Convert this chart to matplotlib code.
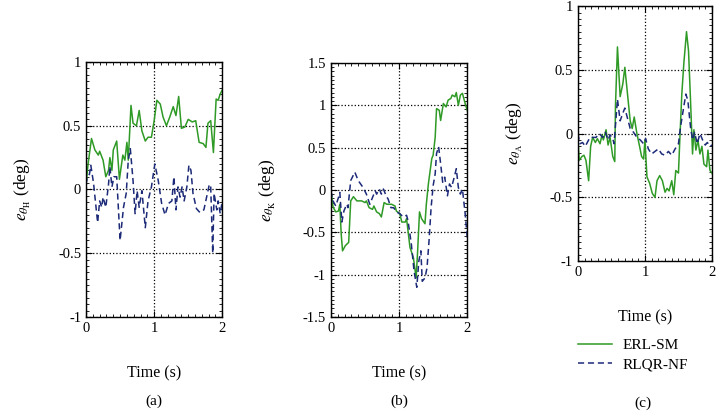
import numpy as np
import matplotlib.pyplot as plt
from matplotlib.ticker import AutoMinorLocator
from matplotlib.lines import Line2D

plt.rcParams['font.family'] = ['Liberation Serif', 'DejaVu Serif']
plt.rcParams['mathtext.fontset'] = 'stix'

# (a) hip
tH_erl = [0, 0.03, 0.08, 0.13, 0.18, 0.2, 0.25, 0.29, 0.33, 0.35, 0.38, 0.4, 0.45, 0.49, 0.54, 0.57, 0.6, 0.62,
          0.66, 0.69, 0.74, 0.78, 0.82, 0.87, 0.91, 0.96, 1.0, 1.04, 1.09, 1.13, 1.18, 1.23, 1.28, 1.32, 1.36,
          1.40, 1.45, 1.5, 1.56, 1.61, 1.66, 1.72, 1.76, 1.79, 1.83, 1.87, 1.91, 1.94, 1.97, 2.0]
eH_erl = [0.04, 0.2, 0.4, 0.31, 0.27, 0.3, 0.23, 0.1, 0.15, 0.25, 0.15, 0.31, 0.38, 0.08, 0.27, 0.23, 0.37, 0.23,
          0.66, 0.52, 0.5, 0.62, 0.46, 0.38, 0.41, 0.41, 0.54, 0.7, 0.67, 0.57, 0.5, 0.57, 0.65, 0.58, 0.73,
          0.48, 0.49, 0.55, 0.53, 0.54, 0.37, 0.36, 0.33, 0.52, 0.54, 0.29, 0.71, 0.7, 0.75, 0.78]
tH_rlqr = [0, 0.02, 0.05, 0.07, 0.11, 0.17, 0.2, 0.23, 0.25, 0.29, 0.33, 0.35, 0.38, 0.41, 0.45, 0.5, 0.55, 0.59,
           0.62, 0.65, 0.69, 0.72, 0.75, 0.78, 0.82, 0.87, 0.91, 0.96, 1.01, 1.06, 1.11, 1.16, 1.21, 1.26, 1.29,
           1.32, 1.35, 1.38, 1.41, 1.44, 1.48, 1.51, 1.54, 1.57, 1.62, 1.67, 1.73, 1.77, 1.81, 1.83, 1.86, 1.88,
           1.92, 1.94, 1.97, 2.0]
eH_rlqr = [0.04, 0.1, 0.12, 0.19, 0.05, -0.26, -0.09, -0.14, -0.06, -0.14, 0.04, 0.18, 0.02, 0.1, 0.1, -0.4, -0.14,
           -0.03, 0.23, 0.32, 0.07, -0.19, -0.01, -0.14, -0.01, -0.3, -0.09, 0.02, 0.2, 0.07, -0.11, -0.2, -0.11,
           -0.09, 0.1, -0.16, 0.02, -0.06, 0.02, -0.09, 0.02, 0.19, 0.15, -0.03, -0.15, -0.18, -0.16, -0.06, 0.04,
           0.03, -0.5, -0.03, -0.16, -0.09, -0.19, -0.09]

# (b) knee
tK_erl = [0, 0.03, 0.07, 0.11, 0.13, 0.15, 0.17, 0.21, 0.26, 0.29, 0.33, 0.38, 0.45, 0.5, 0.52, 0.56, 0.61, 0.63,
          0.67, 0.71, 0.74, 0.78, 0.82, 0.89, 0.94, 0.96, 1.01, 1.04, 1.09, 1.11, 1.16, 1.21, 1.25, 1.27, 1.30,
          1.33, 1.38, 1.40, 1.43, 1.45, 1.48, 1.50, 1.53, 1.55, 1.59, 1.61, 1.65, 1.69, 1.72, 1.76, 1.78, 1.82,
          1.84, 1.87, 1.90, 1.93, 1.97, 2.0]
eK_erl = [-0.01, -0.2, -0.26, -0.25, -0.17, -0.52, -0.72, -0.66, -0.62, -0.13, -0.08, -0.13, -0.13, -0.15, -0.13,
          -0.21, -0.23, -0.19, -0.26, -0.28, -0.32, -0.15, -0.17, -0.17, -0.19, -0.25, -0.28, -0.38, -0.38, -0.34,
          -0.68, -0.8, -1.04, -0.76, -0.26, -0.34, -0.4, -0.17, 0.07, 0.19, 0.37, 0.41, 0.62, 0.96, 0.94, 0.82,
          1.02, 0.98, 1.06, 1.08, 1.12, 1.1, 1.15, 1.0, 1.12, 1.14, 1.02, 0.94]
tK_rlqr = [0, 0.03, 0.07, 0.11, 0.13, 0.16, 0.19, 0.23, 0.25, 0.29, 0.35, 0.4, 0.47, 0.52, 0.57, 0.61, 0.65, 0.67,
           0.71, 0.74, 0.77, 0.81, 0.84, 0.88, 0.92, 0.96, 1.01, 1.06, 1.11, 1.13, 1.18, 1.22, 1.26, 1.29, 1.32,
           1.34, 1.38, 1.41, 1.44, 1.47, 1.5, 1.53, 1.55, 1.58, 1.61, 1.64, 1.67, 1.71, 1.74, 1.77, 1.81, 1.84,
           1.87, 1.9, 1.93, 1.97, 2.0]
eK_rlqr = [-0.01, -0.13, -0.19, -0.09, -0.03, -0.38, -0.25, -0.17, -0.21, 0.11, 0.21, 0.11, 0.03, -0.05, -0.17,
           -0.09, -0.01, -0.05, 0.01, -0.05, 0.01, -0.07, -0.11, -0.21, -0.21, -0.26, -0.28, -0.32, -0.3, -0.36,
           -0.64, -0.96, -1.15, -0.84, -0.72, -1.08, -1.04, -0.92, -0.6, -0.21, 0.05, 0.19, 0.43, 0.51, 0.31, 0.09,
           0.15, -0.07, 0.07, 0.03, 0.15, 0.25, 0.03, -0.05, 0.01, -0.28, -0.56]

# (c) ankle
tA_erl = [0, 0.02, 0.06, 0.09, 0.12, 0.16, 0.19, 0.22, 0.26, 0.29, 0.33, 0.36, 0.38, 0.42, 0.45, 0.48, 0.52, 0.55,
          0.56, 0.59, 0.63, 0.67, 0.7, 0.74, 0.78, 0.81, 0.84, 0.88, 0.92, 0.95, 0.98, 1.0, 1.03, 1.07, 1.11,
          1.15, 1.18, 1.22, 1.26, 1.3, 1.33, 1.36, 1.4, 1.43, 1.46, 1.5, 1.52, 1.55, 1.58, 1.62, 1.65, 1.68,
          1.71, 1.73, 1.76, 1.79, 1.82, 1.85, 1.88, 1.92, 1.94, 1.97, 2.0]
eA_erl = [-0.05, -0.21, -0.18, -0.17, -0.21, -0.37, -0.1, -0.03, -0.07, -0.04, -0.08, -0.01, -0.05, 0.03, -0.09,
          -0.03, -0.18, -0.22, 0.21, 0.68, 0.29, 0.39, 0.52, 0.31, 0.1, 0.04, 0.13, 0.0, -0.1, -0.18, -0.2, -0.05,
          -0.34, -0.39, -0.47, -0.5, -0.37, -0.33, -0.37, -0.46, -0.43, -0.45, -0.37, -0.48, -0.29, -0.31, -0.05,
          0.31, 0.55, 0.8, 0.65, 0.26, -0.16, 0.03, -0.13, -0.05, -0.16, -0.1, -0.24, -0.26, -0.13, -0.29, -0.31]
tA_rlqr = [0, 0.03, 0.07, 0.11, 0.14, 0.18, 0.22, 0.27, 0.32, 0.37, 0.41, 0.45, 0.48, 0.52, 0.54, 0.57, 0.59, 0.63,
           0.67, 0.7, 0.74, 0.78, 0.83, 0.88, 0.93, 0.98, 1.01, 1.05, 1.1, 1.15, 1.2, 1.25, 1.3, 1.35, 1.4, 1.45,
           1.5, 1.53, 1.57, 1.61, 1.64, 1.68, 1.71, 1.74, 1.78, 1.82, 1.86, 1.9, 1.93, 1.97, 2.0]
eA_rlqr = [0.0, -0.08, -0.07, -0.1, -0.07, -0.03, -0.03, -0.03, 0.0, -0.03, 0.01, -0.05, -0.01, -0.04, -0.08, 0.13,
           0.27, 0.1, 0.16, 0.2, 0.12, 0.04, 0.01, -0.03, -0.05, -0.08, -0.04, -0.12, -0.16, -0.14, -0.12, -0.16,
           -0.17, -0.14, -0.17, -0.12, -0.08, 0.05, 0.18, 0.31, 0.26, 0.05, -0.05, 0.01, -0.08, 0.0, -0.05, -0.09,
           -0.07, -0.1, -0.09]

green = '#2f9a26'
navy = '#1c2a78'

fig = plt.figure(figsize=(7.17, 4.11), dpi=100)

panels = [
    ([0.120, 0.229, 0.190, 0.620], tH_erl, eH_erl, tH_rlqr, eH_rlqr, (-1, 1), [-1, -0.5, 0, 0.5, 1], 'H', '(a)', 0.215, 0.024),
    ([0.4616, 0.229, 0.190, 0.618], tK_erl, eK_erl, tK_rlqr, eK_rlqr, (-1.5, 1.5), [-1.5, -1, -0.5, 0, 0.5, 1, 1.5], 'K', '(b)', 0.557, 0.024),
    ([0.806, 0.365, 0.187, 0.620], tA_erl, eA_erl, tA_rlqr, eA_rlqr, (-1, 1), [-1, -0.5, 0, 0.5, 1], 'A', '(c)', 0.897, 0.02),
]

for pos, t1, e1, t2, e2, ylim, yt, sub, tag, tx, ty in panels:
    ax = fig.add_axes(pos)
    ax.plot(t1, e1, color=green, lw=1.1)
    ax.plot(t2, e2, color=navy, lw=1.1, ls=(0, (4, 2.5)))
    ax.set_xlim(0, 2)
    ax.set_ylim(*ylim)
    ax.set_xticks([0, 1, 2])
    ax.set_yticks(yt)
    ax.set_yticklabels(['%g' % v if v != 0 else '0' for v in yt])
    ax.xaxis.set_minor_locator(AutoMinorLocator(10))
    ax.yaxis.set_minor_locator(AutoMinorLocator(10))
    ax.tick_params(which='both', direction='in', top=True, right=True, labelsize=10.5)
    ax.tick_params(which='major', length=4, width=0.8)
    ax.tick_params(which='minor', length=2, width=0.6)
    ax.grid(True, which='major', ls=':', color='k', lw=0.9)
    for s in ax.spines.values():
        s.set_linewidth(1.0)
    ax.set_xlabel('Time (s)', fontsize=11.5, labelpad=22)
    ax.set_ylabel(r'$e_{\theta_{\mathrm{%s}}}$ (deg)' % sub, fontsize=12.5, labelpad=18)
    fig.text(tx, ty, tag, ha='center', va='center', fontsize=11)

handles = [Line2D([], [], color=green, lw=1.1),
           Line2D([], [], color=navy, lw=1.1, ls=(0, (4, 2.5)))]
fig.legend(handles, ['ERL-SM', 'RLQR-NF'], loc='upper left', bbox_to_anchor=(0.787, 0.21),
           frameon=False, fontsize=11, handlelength=2.2, handletextpad=0.7, labelspacing=0.35)

fig.savefig('out.png', dpi=100)
